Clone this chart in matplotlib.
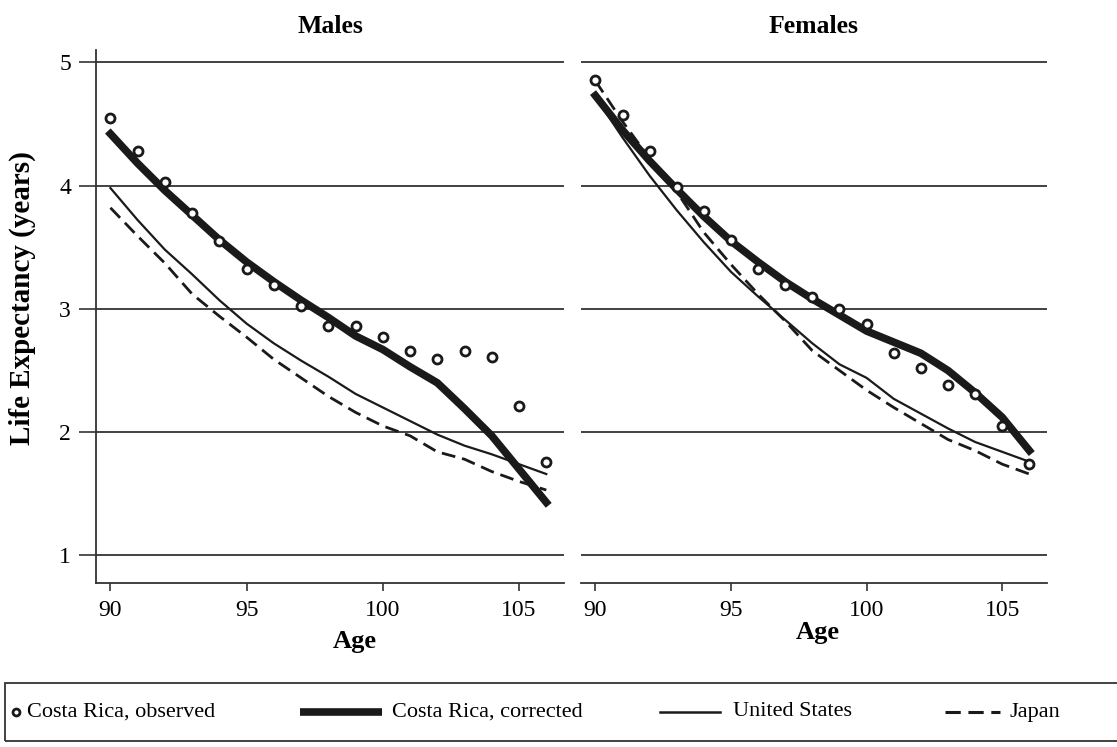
import matplotlib.pyplot as plt
from matplotlib.lines import Line2D
from matplotlib.patches import Rectangle

plt.rcParams['font.family'] = ['Liberation Serif', 'DejaVu Serif']

ages = list(range(90, 107))

# Males
m_obs = [4.55, 4.28, 4.03, 3.78, 3.55, 3.32, 3.19, 3.02, 2.86, 2.86, 2.77, 2.66, 2.59, 2.66, 2.61, 2.21, 1.76]
m_cor = [4.42, 4.18, 3.96, 3.76, 3.56, 3.38, 3.22, 3.07, 2.93, 2.78, 2.67, 2.53, 2.40, 2.19, 1.97, 1.70, 1.43]
m_us = [3.98, 3.72, 3.48, 3.28, 3.07, 2.88, 2.72, 2.58, 2.45, 2.31, 2.20, 2.09, 1.98, 1.89, 1.82, 1.74, 1.66]
m_jp = [3.82, 3.59, 3.37, 3.12, 2.94, 2.77, 2.59, 2.44, 2.29, 2.16, 2.05, 1.97, 1.84, 1.78, 1.68, 1.60, 1.53]

# Females
f_obs = [4.86, 4.57, 4.28, 3.99, 3.79, 3.56, 3.32, 3.19, 3.10, 3.00, 2.88, 2.64, 2.52, 2.38, 2.31, 2.05, 1.74]
f_cor = [4.73, 4.45, 4.20, 3.97, 3.75, 3.55, 3.38, 3.22, 3.08, 2.95, 2.82, 2.73, 2.64, 2.50, 2.32, 2.12, 1.85]
f_us = [4.72, 4.39, 4.08, 3.80, 3.54, 3.30, 3.10, 2.91, 2.72, 2.55, 2.44, 2.27, 2.15, 2.03, 1.92, 1.84, 1.76]
f_jp = [4.85, 4.52, 4.22, 3.95, 3.62, 3.36, 3.12, 2.90, 2.66, 2.50, 2.34, 2.20, 2.07, 1.94, 1.85, 1.74, 1.66]

labels = ['Costa Rica, observed', 'Costa Rica, corrected', 'United States', 'Japan']

col = '#1a1a1a'
W, H = 1117, 747
fig = plt.figure(figsize=(W / 100, H / 100), dpi=100)
ax1 = fig.add_axes([96 / W, 164 / H, 468 / W, 533 / H])
ax2 = fig.add_axes([581 / W, 164 / H, 466 / W, 533 / H])

def panel(ax, obs, cor, us, jp, title):
    for y in [1, 2, 3, 4, 5]:
        ax.axhline(y, color='#333333', lw=1.3, zorder=1)
    ax.plot(ages, jp, color=col, lw=2.0, dashes=(5, 2.5), zorder=3)
    ax.plot(ages, us, color=col, lw=1.6, zorder=3)
    ax.plot(ages, cor, color=col, lw=5.5, zorder=4)
    ax.plot(ages, obs, ls='none', marker='o', ms=6.5, mfc='white', mec=col, mew=2.0, zorder=5)
    ax.set_xlim(89.47, 106.65)
    ax.set_ylim(0.776, 5.10)
    ax.set_xticks([90, 95, 100, 105])
    ax.set_yticks([1, 2, 3, 4, 5])
    ax.tick_params(axis='x', direction='out', length=6, width=1.2, labelsize=17, pad=6, colors='#333333', labelcolor='black')
    ax.tick_params(axis='y', direction='out', length=12, width=1.2, labelsize=17, pad=6, colors='#333333', labelcolor='black')
    for s in ['top', 'right']:
        ax.spines[s].set_visible(False)
    for s in ['bottom', 'left']:
        ax.spines[s].set_linewidth(1.3)
        ax.spines[s].set_color('#333333')
    ax.set_title(title, fontsize=18.5, fontweight='bold', pad=12)
    ax.set_xlabel('Age', fontsize=19, fontweight='bold')

panel(ax1, m_obs, m_cor, m_us, m_jp, 'Males')
panel(ax2, f_obs, f_cor, f_us, f_jp, 'Females')
ax1.xaxis.set_label_coords(0.553, -0.088)
ax2.xaxis.set_label_coords(0.509, -0.072)
ax1.set_ylabel('Life Expectancy (years)', fontsize=21, fontweight='bold')
ax1.yaxis.set_label_coords(-0.128, 0.535)
ax2.spines['left'].set_visible(False)
ax2.tick_params(axis='y', left=False, labelleft=False)

# legend box drawn in pixel positions
def fx(px):
    return px / W

def fy(py):
    return 1 - py / H

fig.add_artist(Rectangle((fx(5), fy(741)), fx(1125) - fx(5), fy(683) - fy(741),
                         transform=fig.transFigure, fill=False, ec='#333333', lw=1.3, clip_on=False))
ly = fy(712)
fig.add_artist(Line2D([fx(16)], [ly], ls='none', marker='o', ms=5, mfc='white', mec=col, mew=2.0,
                      transform=fig.transFigure))
fig.add_artist(Line2D([fx(300), fx(382)], [ly, ly], color=col, lw=5.5, solid_capstyle='butt',
                      transform=fig.transFigure))
fig.add_artist(Line2D([fx(660), fx(720)], [ly, ly], color=col, lw=1.8, transform=fig.transFigure))
fig.add_artist(Line2D([fx(945), fx(1000)], [ly, ly], color=col, lw=2.2, dashes=(5, 2.5),
                      transform=fig.transFigure))
for x0, lab in zip([27, 392, 733, 1010], labels):
    fig.text(fx(x0), ly, lab, fontsize=16, va='center', ha='left')

fig.savefig('out.png', dpi=100)
